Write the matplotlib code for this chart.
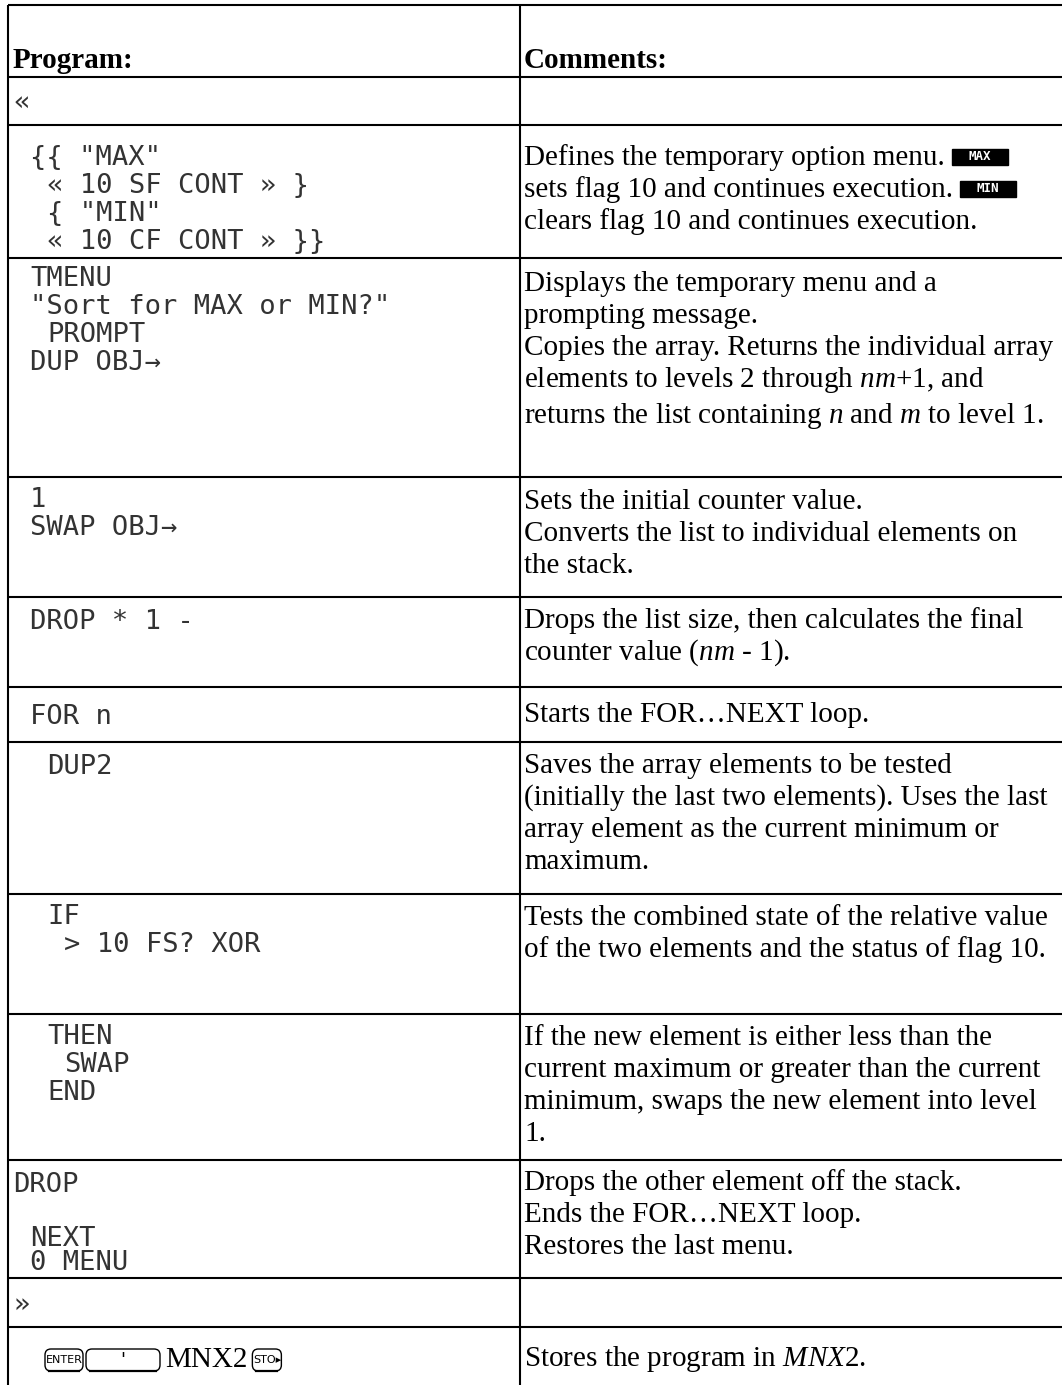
import matplotlib.pyplot as plt
from matplotlib.patches import FancyBboxPatch, Rectangle

plt.rcParams['mathtext.fontset'] = 'custom'
plt.rcParams['mathtext.rm'] = 'Liberation Serif'
plt.rcParams['mathtext.it'] = 'Liberation Serif:italic'
plt.rcParams['mathtext.bf'] = 'Liberation Serif:bold'

# table content
headers = ['Program:', 'Comments:']

program = [
    ['«'],
    [' {{ "MAX"', '  « 10 SF CONT » }', '  { "MIN"', '  « 10 CF CONT » }}'],
    [' TMENU', ' "Sort for MAX or MIN?"', '  PROMPT', ' DUP OBJ→'],
    [' 1', ' SWAP OBJ→'],
    [' DROP * 1 -'],
    [' FOR n'],
    ['  DUP2'],
    ['  IF', '   > 10 FS? XOR'],
    ['  THEN', '   SWAP', '  END'],
    ['DROP', '', ' NEXT', ' 0 MENU'],
    ['»'],
    [],
]

comments = [
    [],
    ['Defines the temporary option menu.',
     'sets flag 10 and continues execution.',
     'clears flag 10 and continues execution.'],
    ['Displays the temporary menu and a',
     'prompting message.',
     'Copies the array. Returns the individual array',
     'elements to levels 2 through $nm$+1, and',
     'returns the list containing $n$ and $m$ to level 1.'],
    ['Sets the initial counter value.',
     'Converts the list to individual elements on',
     'the stack.'],
    ['Drops the list size, then calculates the final',
     'counter value ($nm$ - 1).'],
    ['Starts the FOR…NEXT loop.'],
    ['Saves the array elements to be tested',
     '(initially the last two elements). Uses the last',
     'array element as the current minimum or',
     'maximum.'],
    ['Tests the combined state of the relative value',
     'of the two elements and the status of flag 10.'],
    ['If the new element is either less than the',
     'current maximum or greater than the current',
     'minimum, swaps the new element into level',
     '1.'],
    ['Drops the other element off the stack.',
     'Ends the FOR…NEXT loop.',
     'Restores the last menu.'],
    [],
    ['Stores the program in $\\mathit{MNX2}$.'],
]

menu_labels = ['MAX', 'MIN']        # inverse menu keys after comment lines 0 and 1 of row 1
key_seq = ['ENTER', "'", 'MNX2', 'STO▸']

# layout (pixels)
W, H = 1062, 1385
edges = [5, 77, 125, 258, 477, 597, 687, 742, 894, 1014, 1160, 1278, 1327, 1385]
x_left, x_mid = 8, 520
code_x, com_x = 13, 524
indent = 17
code_font = 'DejaVu Sans Mono'
serif = 'Liberation Serif'
fs_com, fs_code = 21, 19.5

fig = plt.figure(figsize=(W / 100, H / 100), dpi=100)
ax = fig.add_axes([0, 0, 1, 1])
ax.set_xlim(0, W)
ax.set_ylim(H, 0)
ax.axis('off')

lw = 1.5
ax.hlines(edges[:-1], x_left, W, color='black', lw=lw)
ax.vlines([x_left, x_mid], edges[0], H, color='black', lw=lw)

# header
ax.text(code_x, 68, headers[0], fontsize=fs_com, fontweight='bold', family=serif, va='baseline')
ax.text(com_x, 68, headers[1], fontsize=fs_com, fontweight='bold', family=serif, va='baseline')

# first-line centre offsets inside each body row
code_first = [24, 30, 18, 20, 22, 27, 22, 20, 20, 22, 25, 0]
com_first = [0, 32, 25, 24, 23, 27, 23, 23, 23, 22, 0, 31]
code_step = 28
com_step = 32

for i, lines in enumerate(program):
    top = edges[i + 1]
    for j, s in enumerate(lines):
        y = top + code_first[i] + j * code_step
        if i == 9:
            y = top + [22, 0, 76, 100][j]
        n = len(s) - len(s.lstrip(' '))
        ax.text(code_x + n * indent, y + 10, s.lstrip(' '), fontsize=fs_code,
                family=code_font, color='#333333', va='baseline')

texts = {}
for i, lines in enumerate(comments):
    top = edges[i + 1]
    for j, s in enumerate(lines):
        y = top + com_first[i] + j * com_step
        if i == 2 and j == 4:
            y += 4
        t = ax.text(com_x, y + 8, s, fontsize=fs_com, family=serif, va='baseline')
        texts[(i, j)] = (t, y + 8)

# inverse menu key labels after the text
fig.canvas.draw()
r = fig.canvas.get_renderer()
for j, lab in enumerate(menu_labels):
    t, base = texts[(1, j)]
    x1 = t.get_window_extent(r).x1 + 7
    ax.add_patch(Rectangle((x1, base - 16), 56, 16, color='black'))
    ax.text(x1 + 28, base - 8, lab, fontsize=9, family=code_font, fontweight='bold',
            color='white', ha='center', va='center')

# key sequence in the last row
ky = 1360
kx = 45
for k in key_seq:
    if k == 'MNX2':
        t = ax.text(kx + 2, ky + 7, k, fontsize=fs_com, family=serif, va='baseline')
        fig.canvas.draw()
        kx = t.get_window_extent(r).x1 + 5
        continue
    wk = {'ENTER': 38, "'": 74}.get(k, 29)
    ax.add_patch(FancyBboxPatch((kx, ky - 11), wk, 22, boxstyle='round,pad=0,rounding_size=6',
                                fc='white', ec='black', lw=1))
    ax.plot([kx + 4, kx + wk - 4], [ky + 11, ky + 11], color='black', lw=1.6)
    ax.text(kx + wk / 2, ky, k, fontsize=8 if k != "'" else 13, family='DejaVu Sans',
            ha='center', va='center')
    kx += wk + 3

fig.savefig('out.png', dpi=100)
